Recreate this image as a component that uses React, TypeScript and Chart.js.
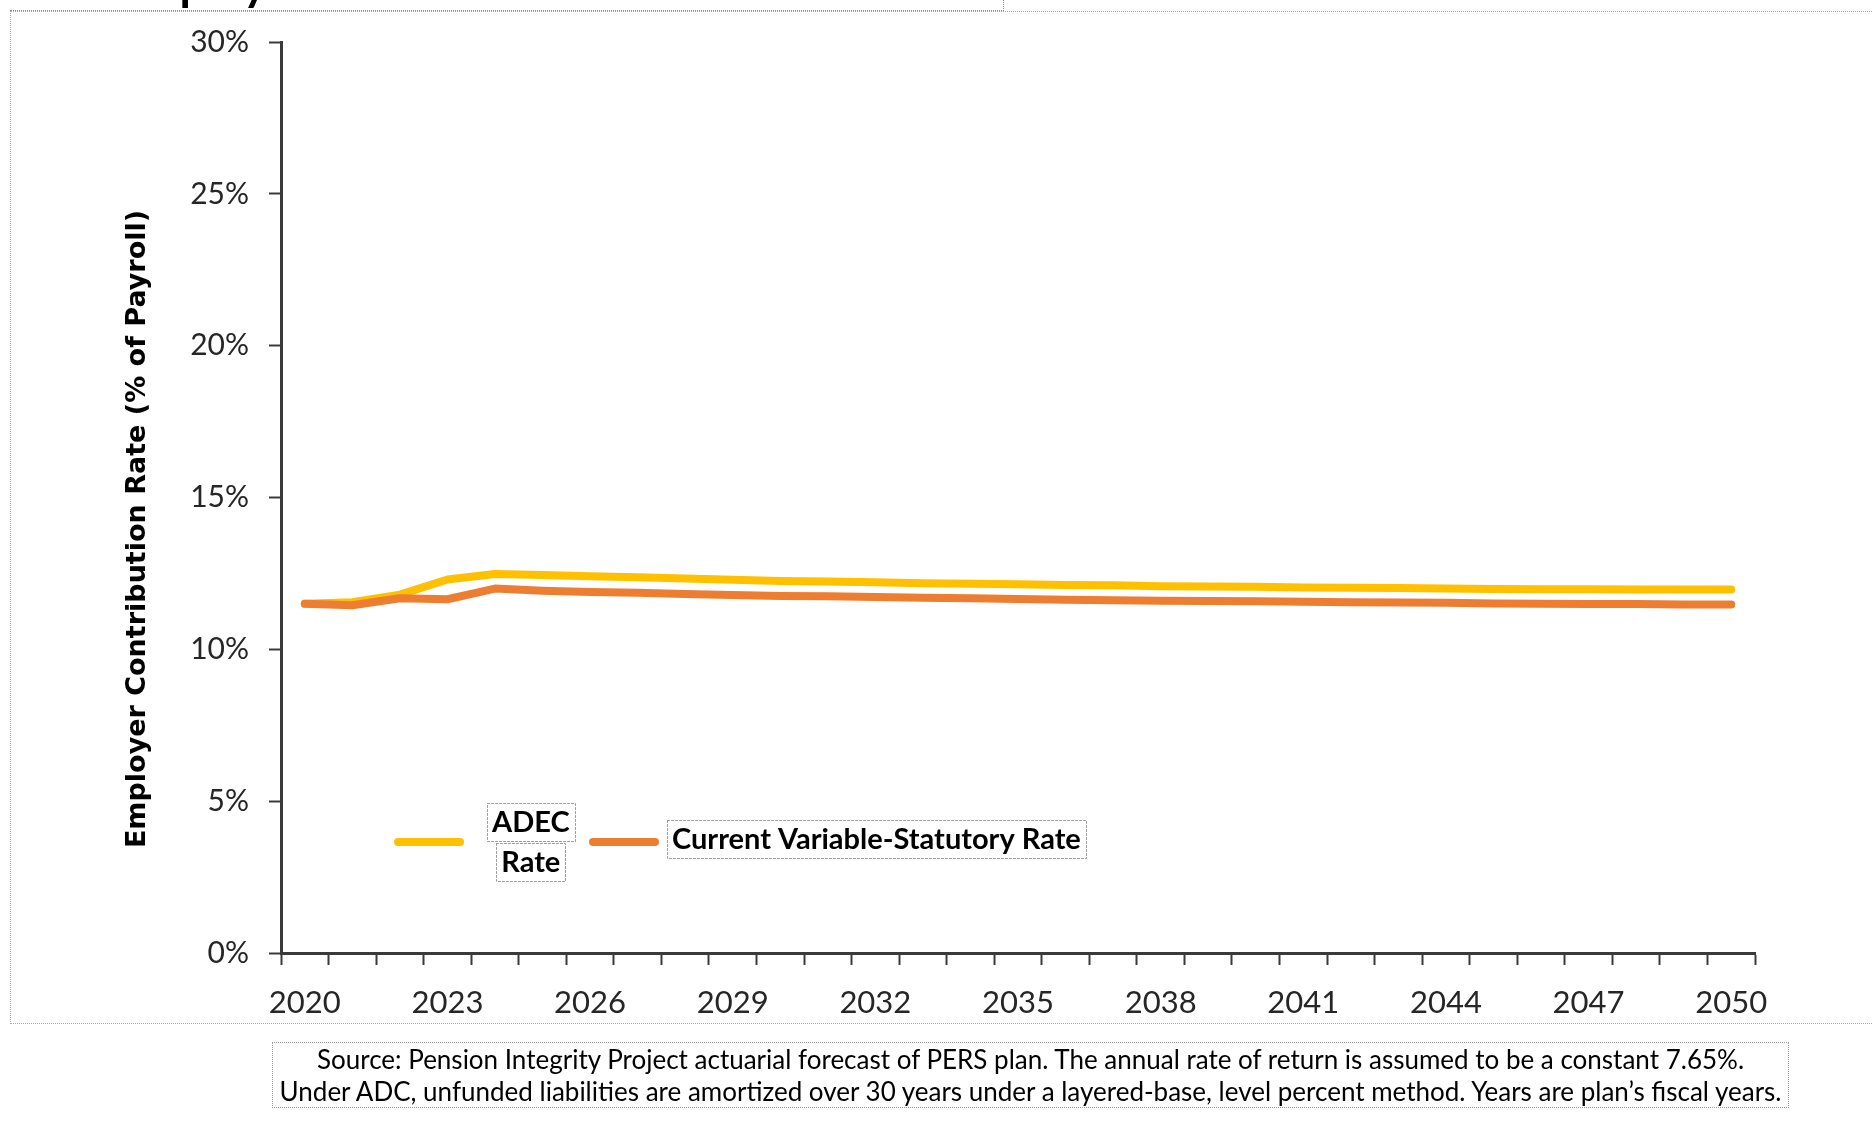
import React, { useEffect, useRef } from 'react';
import { Chart, registerables } from 'chart.js';

Chart.register(...registerables);

// ---- data ----
const years = [
  '2020', '2021', '2022', '2023', '2024', '2025', '2026', '2027', '2028', '2029', '2030',
  '2031', '2032', '2033', '2034', '2035', '2036', '2037', '2038', '2039', '2040',
  '2041', '2042', '2043', '2044', '2045', '2046', '2047', '2048', '2049', '2050',
];

const adecRate = [
  11.5, 11.55, 11.8, 12.3, 12.48, 12.45, 12.41, 12.37, 12.33, 12.29, 12.25,
  12.23, 12.21, 12.18, 12.16, 12.14, 12.12, 12.11, 12.08, 12.07, 12.06,
  12.04, 12.03, 12.02, 12.0, 11.99, 11.98, 11.98, 11.97, 11.97, 11.97,
];

const statutoryRate = [
  11.5, 11.45, 11.68, 11.65, 12.0, 11.93, 11.89, 11.86, 11.82, 11.79, 11.76,
  11.75, 11.72, 11.7, 11.68, 11.66, 11.63, 11.62, 11.6, 11.59, 11.58,
  11.57, 11.55, 11.54, 11.53, 11.51, 11.5, 11.49, 11.49, 11.48, 11.48,
];

const seriesLabels = ['ADEC Rate', 'Current Variable-Statutory Rate'];
const seriesColors = ['#FFC000', '#ED7D31'];

const xTickLabels = ['2020', '2023', '2026', '2029', '2032', '2035', '2038', '2041', '2044', '2047', '2050'];
const yTickValues = [0, 5, 10, 15, 20, 25, 30];

const yAxisTitle = 'Employer Contribution Rate (% of Payroll)';
const chartTitle = 'Employer Contribution Rate';
const sourceLines = [
  'Source: Pension Integrity Project actuarial forecast of PERS plan. The annual rate of return is assumed to be a constant 7.65%.',
  'Under ADC, unfunded liabilities are amortized over 30 years under a layered-base, level percent method. Years are plan\u2019s fiscal years.',
];

const LABEL_FONT = 'Lato, "Open Sans", sans-serif';

function wrapWords(ctx: CanvasRenderingContext2D, text: string, maxWidth: number): string[] {
  const words = text.split(' ');
  const lines: string[] = [];
  let cur = '';
  for (const w of words) {
    const test = cur ? cur + ' ' + w : w;
    if (cur && ctx.measureText(test).width > maxWidth) {
      lines.push(cur);
      cur = w;
    } else {
      cur = test;
    }
  }
  if (cur) lines.push(cur);
  return lines;
}

const boxedLegend = {
  id: 'boxedLegend',
  afterDraw(chart: any, _args: any, opts: any) {
    const ctx: CanvasRenderingContext2D = chart.ctx;
    chart.data.datasets.forEach((ds: any, i: number) => {
      const it = opts.items[i];
      ctx.save();
      ctx.strokeStyle = ds.borderColor;
      ctx.lineWidth = 8;
      ctx.lineCap = 'round';
      ctx.beginPath();
      ctx.moveTo(it.lineX, opts.y);
      ctx.lineTo(it.lineX + opts.lineLength, opts.y);
      ctx.stroke();

      ctx.font = opts.font;
      const lines = wrapWords(ctx, ds.label, it.maxWidth);
      const widths = lines.map((l) => ctx.measureText(l).width);
      const blockW = Math.max(...widths);
      const lh = opts.lineHeight;
      const total = lines.length * lh;
      lines.forEach((ln, j) => {
        const cy = opts.y - total / 2 + lh * (j + 0.5) + (lines.length === 1 ? -3 : 0);
        const cx = it.textX + blockW / 2;
        const w = widths[j];
        ctx.setLineDash([2, 2]);
        ctx.lineWidth = 1;
        ctx.strokeStyle = '#9a9a9a';
        ctx.strokeRect(Math.round(cx - w / 2 - 5) + 0.5, Math.round(cy - 19) + 0.5, Math.round(w + 10), 38);
        ctx.setLineDash([]);
        ctx.fillStyle = '#000';
        ctx.textAlign = 'center';
        ctx.textBaseline = 'middle';
        ctx.fillText(ln, cx, cy + 1);
      });
      ctx.restore();
    });
  },
};

const yTitlePlugin = {
  id: 'yTitleText',
  afterDraw(chart: any, _args: any, opts: any) {
    const ctx: CanvasRenderingContext2D = chart.ctx;
    ctx.save();
    ctx.translate(opts.x, opts.y);
    ctx.rotate(-Math.PI / 2);
    ctx.font = opts.font;
    ctx.fillStyle = '#000';
    ctx.textAlign = 'center';
    ctx.textBaseline = 'middle';
    ctx.fillText(opts.text, 0, 0);
    ctx.restore();
  },
};

export default function App() {
  const canvasRef = useRef<HTMLCanvasElement | null>(null);

  useEffect(() => {
    const canvas = canvasRef.current;
    if (!canvas) return;
    const axisColor = '#3a3a3a';
    const chart = new Chart(canvas, {
      type: 'line',
      data: {
        labels: years,
        datasets: [
          {
            label: seriesLabels[0],
            data: adecRate,
            borderColor: seriesColors[0],
            backgroundColor: seriesColors[0],
            borderWidth: 8,
            pointRadius: 0,
            tension: 0,
            borderCapStyle: 'round',
            borderJoinStyle: 'round',
            order: 1,
          },
          {
            label: seriesLabels[1],
            data: statutoryRate,
            borderColor: seriesColors[1],
            backgroundColor: seriesColors[1],
            borderWidth: 8,
            pointRadius: 0,
            tension: 0,
            borderCapStyle: 'round',
            borderJoinStyle: 'round',
            order: 0,
          },
        ],
      },
      options: {
        animation: false,
        responsive: false,
        devicePixelRatio: 1,
        layout: { padding: { left: 110, top: 42, right: 117, bottom: 109 } },
        plugins: {
          legend: { display: false },
          tooltip: { enabled: false },
          title: { display: false },
          boxedLegend: {
            y: 842,
            lineLength: 62,
            lineHeight: 40,
            font: `bold 29px ${LABEL_FONT}`,
            items: [
              { lineX: 398, textX: 492, maxWidth: 80 },
              { lineX: 593, textX: 672, maxWidth: 700 },
            ],
          },
          yTitleText: {
            x: 138,
            y: 529,
            text: yAxisTitle,
            font: 'bold 27px "DejaVu Sans", Verdana, sans-serif',
          },
        } as any,
        scales: {
          x: {
            type: 'category',
            offset: true,
            afterFit: (s: any) => { s.height = 60; },
            grid: {
              offset: true,
              drawOnChartArea: false,
              drawTicks: true,
              tickLength: 12,
              tickWidth: 2,
              tickColor: axisColor,
            },
            border: { display: true, color: axisColor, width: 3 },
            ticks: {
              autoSkip: false,
              maxRotation: 0,
              minRotation: 0,
              padding: 19,
              color: '#262626',
              font: { family: LABEL_FONT, size: 31 },
              callback: function (this: any, value: any) {
                const lab = this.getLabelForValue(value);
                return xTickLabels.includes(lab) ? lab : '';
              },
            },
          },
          y: {
            type: 'linear',
            min: 0,
            max: 30,
            afterFit: (s: any) => { s.width = 171; },
            afterBuildTicks: (s: any) => { s.ticks = yTickValues.map((v) => ({ value: v })); },
            grid: {
              drawOnChartArea: false,
              drawTicks: true,
              tickLength: 12,
              tickWidth: 2,
              tickColor: axisColor,
            },
            border: { display: true, color: axisColor, width: 3 },
            ticks: {
              padding: 20,
              color: '#262626',
              font: { family: LABEL_FONT, size: 30 },
              callback: (v: any) => `${v}%`,
            },
          },
        },
      },
      plugins: [boxedLegend, yTitlePlugin],
    });

    const fontsAny: any = (document as any).fonts;
    if (fontsAny && fontsAny.load) {
      Promise.all([
        fontsAny.load('30px Lato'),
        fontsAny.load('bold 29px Lato'),
        fontsAny.load('bold 27px "DejaVu Sans"'),
      ]).then(() => { try { chart.update(); } catch (e) { /* ignore */ } }).catch(() => {});
    }

    return () => { chart.destroy(); };
  }, []);

  return (
    <div style={{ position: 'absolute', left: 0, top: 0, width: 1872, height: 1122, overflow: 'hidden', background: '#fff' }}>
      <canvas ref={canvasRef} width={1872} height={1122} style={{ position: 'absolute', left: 0, top: 0, width: 1872, height: 1122 }} />
      {/* clipped title box at the top */}
      <div style={{
        position: 'absolute', left: 10, top: 0, width: 993, height: 10, overflow: 'hidden',
        borderRight: '1px dotted #888', borderBottom: '1px dotted #888',
      }}>
        <span style={{
          position: 'absolute', left: 105, top: -40, whiteSpace: 'nowrap',
          fontFamily: LABEL_FONT, fontWeight: 'bold', fontSize: 46, lineHeight: '46px', color: '#000',
        }}>{chartTitle}</span>
      </div>
      {/* chart frame */}
      <div style={{
        position: 'absolute', left: 10, top: 11, width: 1900, height: 1011,
        border: '1px dotted #aaa', pointerEvents: 'none',
      }} />
      {/* source note */}
      <div style={{
        position: 'absolute', left: 272, top: 1042, width: 1517, height: 66,
        border: '1px dotted #999', boxSizing: 'border-box',
        fontFamily: LABEL_FONT, fontSize: 26, lineHeight: '32px', color: '#000',
        textAlign: 'center', whiteSpace: 'nowrap',
      }}>
        {sourceLines.map((l, i) => (<div key={i}>{l}</div>))}
      </div>
    </div>
  );
}
